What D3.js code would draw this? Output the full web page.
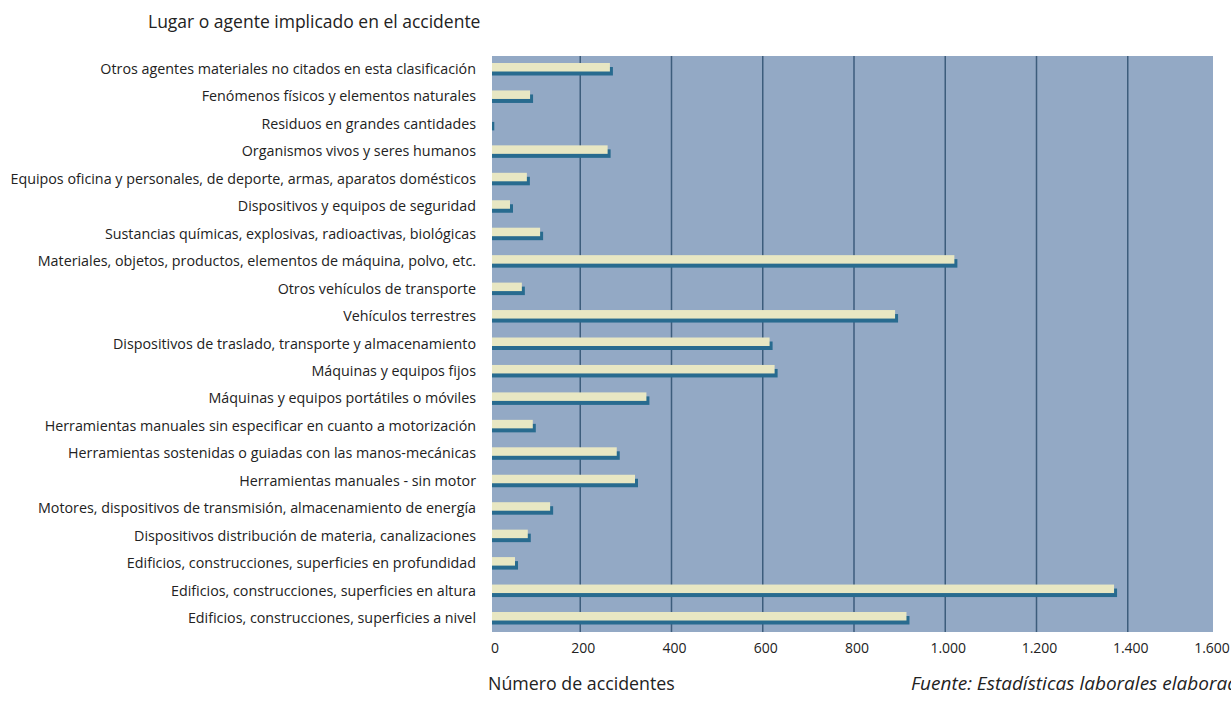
<!DOCTYPE html>
<html>
<head>
<meta charset="utf-8">
<script src="https://cdn.jsdelivr.net/npm/d3@7"></script>
<style>
  body { margin: 0; background: #fff; }
  svg text { font-family: "Open Sans", "Noto Sans", sans-serif; fill: #222; }
</style>
</head>
<body>
<svg width="1231" height="706"></svg>
<script>
// categorías (de arriba abajo)
const categorias = [
    'Otros agentes materiales no citados en esta clasificación',
    'Fenómenos físicos y elementos naturales',
    'Residuos en grandes cantidades',
    'Organismos vivos y seres humanos',
    'Equipos oficina y personales, de deporte, armas, aparatos domésticos',
    'Dispositivos y equipos de seguridad',
    'Sustancias químicas, explosivas, radioactivas, biológicas',
    'Materiales, objetos, productos, elementos de máquina, polvo, etc.',
    'Otros vehículos de transporte',
    'Vehículos terrestres',
    'Dispositivos de traslado, transporte y almacenamiento',
    'Máquinas y equipos fijos',
    'Máquinas y equipos portátiles o móviles',
    'Herramientas manuales sin especificar en cuanto a motorización',
    'Herramientas sostenidas o guiadas con las manos-mecánicas',
    'Herramientas manuales - sin motor',
    'Motores, dispositivos de transmisión, almacenamiento de energía',
    'Dispositivos distribución de materia, canalizaciones',
    'Edificios, construcciones, superficies en profundidad',
    'Edificios, construcciones, superficies en altura',
    'Edificios, construcciones, superficies a nivel',
];

// número de accidentes
const valores = [265, 90, 5, 260, 83, 46, 112, 1020, 72, 890, 615, 626, 345, 96, 280, 320, 134, 85, 57, 1370, 915];

const ticks = [0, 200, 400, 600, 800, 1000, 1200, 1400, 1600];

const svg = d3.select('svg');

// escalas
const x = d3.scaleLinear().domain([0, 1600]).range([489, 1219]);
const y = d3.scalePoint().domain(categorias).range([69, 618]);

const plotTop = 56, plotBottom = 632, plotLeft = 492, plotRight = 1213;

// fondo del gráfico
svg.append('rect')
    .attr('x', plotLeft).attr('y', plotTop)
    .attr('width', plotRight - plotLeft).attr('height', plotBottom - plotTop)
    .attr('fill', '#93a9c5');

// líneas de la cuadrícula
svg.append('g')
    .selectAll('line')
    .data(ticks.filter((d) => d > 0 && d < 1600))
    .join('line')
    .attr('x1', (d) => x(d)).attr('x2', (d) => x(d))
    .attr('y1', plotTop).attr('y2', plotBottom)
    .attr('stroke', '#3d5d7c')
    .attr('stroke-width', 1.5);

// barras: sombra y barra
const bars = svg.append('g');
bars.selectAll('.sombra')
    .data(valores)
    .join('rect')
    .attr('class', 'sombra')
    .attr('x', plotLeft)
    .attr('y', (d, i) => y(categorias[i]) - 2)
    .attr('width', (d) => Math.max(0, x(d) - plotLeft + 3))
    .attr('height', 8.5)
    .attr('fill', '#286b8f');

bars.selectAll('.barra')
    .data(valores)
    .join('rect')
    .attr('class', 'barra')
    .attr('x', plotLeft)
    .attr('y', (d, i) => y(categorias[i]) - 6)
    .attr('width', (d) => Math.max(0, x(d) - plotLeft))
    .attr('height', 8.5)
    .attr('fill', '#e8e7c3');

// etiquetas de categoría
svg.append('g')
    .selectAll('text')
    .data(categorias)
    .join('text')
    .attr('x', 476)
    .attr('y', (d) => y(d))
    .attr('dy', '0.35em')
    .attr('text-anchor', 'end')
    .style('font-size', '14.3px')
    .text((d) => d);

// etiquetas del eje x
const fmt = (d) => d3.format(',')(d).replace(/,/g, '.');
svg.append('g')
    .selectAll('text')
    .data(ticks)
    .join('text')
    .attr('x', (d) => (d === 0 ? 495 : d === 1600 ? 1212 : x(d) + 3))
    .attr('y', 653)
    .attr('text-anchor', 'middle')
    .style('font-size', '14px')
    .text(fmt);

// títulos
svg.append('text')
    .attr('x', 148).attr('y', 28)
    .style('font-size', '17.5px')
    .text('Lugar o agente implicado en el accidente');

svg.append('text')
    .attr('x', 488).attr('y', 690)
    .style('font-size', '17.8px')
    .text('Número de accidentes');

svg.append('text')
    .attr('x', 911).attr('y', 690)
    .style('font-size', '19px')
    .style('font-style', 'italic')
    .text('Fuente: Estadísticas laborales elaboradas');
</script>
</body>
</html>
